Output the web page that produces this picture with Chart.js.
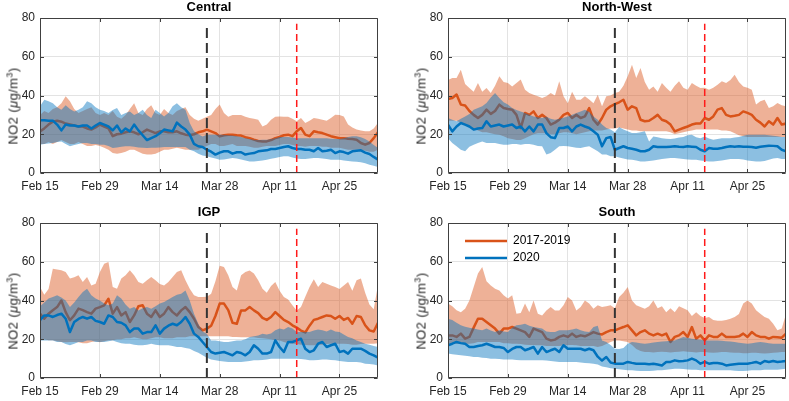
<!DOCTYPE html>
<html>
<head>
<meta charset="utf-8">
<script src="https://cdn.jsdelivr.net/npm/chart.js@4.4.1/dist/chart.umd.min.js"></script>
<style>
  html, body { margin: 0; padding: 0; background: #fff; overflow: hidden; }
  #page { position: relative; width: 789px; height: 401px; overflow: hidden; background: #fff; }
  .panel { position: absolute; }
  .ytitle {
    position: absolute;
    font: 13px "Liberation Sans", Arial, sans-serif;
    letter-spacing: 0.4px;
    color: #262626;
    white-space: nowrap;
    transform: translate(-50%, -50%) rotate(-90deg);
  }
  .ytitle sup { font-size: 9px; vertical-align: 5px; line-height: 0; }
</style>
</head>
<body>
<div id="page"></div>
<script>
// x axis = days since Feb 15 (2020)
const dayTicks = [0, 14, 28, 42, 56, 70];
const tickLabels = ["Feb 15", "Feb 29", "Mar 14", "Mar 28", "Apr 11", "Apr 25"];
const valueTicks = [0, 20, 40, 60, 80];
const lastDay = 79;
const lockdownDay = 39;   // Mar 25
const extensionDay = 60;  // Apr 15
const markerTop = 77;
const seriesLabels = ["2017-2019", "2020"];
const regions = ["Central", "North-West", "IGP", "South"];

// ---- Central
const centralMean1719 = [
  21.5, 23, 25, 26.5, 27, 26.5, 25.5, 25, 24.5, 24,
  24, 23, 22.4, 23.5, 25, 24, 23, 19, 20, 20.3,
  21, 21.5, 21, 20, 21, 22.4, 21.5, 20.6, 21.5, 21.5,
  21, 21, 21.5, 20.5, 19.8, 19.5, 20, 21, 21.5, 22.4,
  21.5, 20.6, 18.9, 19.5, 19.8, 19.8, 19.5, 19.3, 18.5, 18,
  17.2, 16.5, 16.3, 16.3, 17, 18, 18.6, 19.5, 19.8, 19,
  21.5, 23.2, 19.8, 19, 21.5, 21, 20.6, 19.8, 19, 18.5,
  18, 18, 17.7, 17.5, 17.2, 15.5, 14.6, 15.5, 18, 21
];
const centralLow1719 = [
  15, 15, 16, 15, 16, 17, 16, 15, 15, 16,
  15, 14, 14, 14.5, 14, 13, 12, 10.3, 10, 10.3,
  11, 12, 12, 11, 10, 9.5, 9.5, 10, 11, 12,
  12, 12.5, 13, 12.5, 12, 12, 12, 12, 13, 14,
  15, 15, 14, 14, 14.5, 15, 14, 14, 14, 13.5,
  13, 13, 13.5, 14, 14, 14, 14.5, 15, 15, 14.5,
  14, 14, 13.5, 14, 14, 14, 13.5, 13.5, 13, 13,
  13, 12.5, 12, 12, 12, 12, 11.5, 11, 11, 12
];
const centralHigh1719 = [
  30, 32, 31, 33, 34, 36, 39.6, 37, 33, 31,
  32, 33, 34, 31, 30, 31, 30, 32, 29, 28,
  30, 33, 36, 31, 30, 33, 35, 31, 30, 33,
  31, 30, 32, 33, 34, 30, 28, 27, 28, 29,
  30, 33, 35.3, 31, 29, 30, 30, 30, 29, 28.4,
  28, 27.5, 24, 25, 27.5, 29, 29.2, 29, 29, 28,
  26.7, 28.4, 25.8, 27, 28.4, 28, 27.5, 27, 28.4, 30.1,
  30, 29.2, 25, 23.5, 22.4, 22, 21.5, 21.5, 23, 26
];
const centralMean2020 = [
  27.2, 27.2, 27, 27, 25, 22, 25, 24.5, 24.5, 24,
  24.5, 24.5, 23, 24.5, 25.8, 25, 24, 22, 24.5, 21,
  23, 21.5, 25, 22, 19.5, 17, 18, 19, 20.5, 22.4,
  22, 21.5, 26, 24, 22.4, 19.8, 15, 13.8, 13.4, 12,
  11, 9.5, 10.5, 11.2, 11.2, 10, 10.7, 10.7, 9.5, 10,
  10.3, 11.2, 11.5, 11.7, 12.4, 12.4, 12.9, 13.4, 13.8, 12.9,
  12.4, 12.4, 12, 12, 11.2, 12.9, 11.2, 11.5, 12, 10.3,
  11.2, 10.8, 10, 11.2, 11.5, 11.7, 10.5, 9.8, 8.3, 6.9
];
const centralLow2020 = [
  14.6, 15, 15.2, 15.5, 16, 16.3, 15, 13.8, 14.5, 15,
  15.5, 15.5, 15, 15, 14.6, 14.6, 14, 12.9, 13.2, 13.5,
  13.8, 13.8, 13.5, 13.2, 13, 12.9, 13, 13, 13.2, 13.4,
  13.4, 13.4, 13.4, 13.4, 13.4, 12, 11.2, 10, 9, 8.6,
  8, 7.5, 6.9, 7, 7.3, 7.7, 7.5, 7, 6.5, 6,
  6, 6.2, 6.5, 6.9, 7.3, 7.8, 8.3, 8.6, 8.6, 8,
  7.5, 7.2, 7.2, 7.5, 7.7, 7.7, 7.5, 7.2, 6.9, 6.9,
  6.9, 6.5, 6.2, 6, 5.8, 5.5, 5, 4.3, 3.8, 3.1
];
const centralHigh2020 = [
  34.4, 37.8, 37, 36, 34, 32.7, 35, 33, 31.8, 32.7,
  34, 37, 36, 34, 32.7, 32, 31, 32.5, 33.5, 30,
  31, 31.8, 30, 31, 32.7, 30, 28.4, 32.7, 31, 29.2,
  31, 34.4, 36, 34, 32.7, 25.8, 21.5, 20, 18.9, 19.8,
  19.8, 19.8, 19.8, 19.8, 19.5, 19.3, 19, 18.6, 18, 17.5,
  17.2, 17, 17.2, 17.2, 17.5, 18, 18.6, 18.6, 18.6, 18.3,
  18, 18, 18, 18, 18, 18, 18, 18, 17.7, 17.5,
  17.5, 18, 18.6, 19, 19, 18.5, 17.5, 16.3, 14.5, 12.9
];

// ---- North-West
const northWestMean1719 = [
  38.2, 38.7, 40.5, 35.3, 34.8, 32, 30, 28.4, 30, 32.7,
  30.5, 32, 35.3, 33.5, 33, 32.7, 30, 23.2, 31, 30,
  31.8, 28.4, 30, 28.4, 25, 26, 27.5, 30, 31, 28.4,
  30, 28.4, 29.2, 33.5, 27.5, 25, 28.4, 32.7, 34.4, 35.5,
  36.5, 37.8, 32.7, 34.4, 33.5, 27.5, 26.7, 27, 28.4, 30,
  27.5, 26.7, 25, 21.5, 22.4, 23.2, 24, 25, 25.5, 25.5,
  28.4, 27.5, 29.2, 32.7, 33.5, 30, 29.2, 29.5, 30, 31.8,
  31, 30, 27.5, 26, 24, 26.7, 25, 28.4, 25, 25.5
];
const northWestLow1719 = [
  27, 27, 27, 26, 25, 24, 23, 22, 21, 21,
  20.5, 20, 19.8, 19, 18, 17.5, 17, 17, 18, 19,
  20, 20.5, 20.5, 20.5, 20, 20, 20.5, 21, 21, 20.5,
  20, 20.5, 21, 21.5, 22, 22, 22, 22.5, 23, 23,
  23.5, 23, 22.5, 22, 22, 21.5, 21.5, 21.5, 21.5, 21.5,
  21.5, 21.5, 21, 20, 20.5, 21, 21.5, 22, 22.4, 22.4,
  22.4, 22.4, 22.4, 22.4, 22, 22, 21.5, 20.5, 19.5, 19,
  18.6, 18.6, 18.6, 18.6, 18.6, 18.6, 18.6, 18.6, 18.6, 18.6
];
const northWestHigh1719 = [
  48, 49, 49, 53.3, 46, 43.9, 42, 46.5, 42, 43.9,
  41.3, 45, 50, 47, 46.5, 44.7, 46.5, 48.2, 43, 41.3,
  40.4, 39.6, 38.7, 39.6, 41.3, 40, 47.3, 39.6, 36, 42,
  37.8, 37.8, 39.6, 38, 36, 40.4, 34.4, 39.6, 40, 41.3,
  42, 45, 50, 55.9, 49, 54.2, 47, 43, 44.7, 42,
  46.5, 44, 42, 45, 47.3, 44, 43, 46.5, 45, 43.9,
  44, 43, 44, 45.5, 47.3, 46.5, 48, 50.7, 47, 44.7,
  44, 43, 35.3, 37, 37.8, 33.5, 34.5, 36.1, 35, 34.4
];
const northWestMean2020 = [
  25, 21.5, 24, 25.8, 25, 24, 22.4, 23, 23.2, 26.7,
  24, 24.5, 25, 24, 24.5, 25, 23.2, 24, 21.5, 24,
  21.5, 25, 25, 20.6, 18.5, 18, 23.2, 23.2, 24, 21.5,
  24, 25, 24, 23.2, 21.5, 19.8, 13.8, 18, 18.6, 12,
  12.9, 13.8, 12.9, 12.5, 12, 11.2, 11.2, 12, 13.8, 13.4,
  13.4, 13.4, 13.6, 13.8, 13.5, 13.4, 13.8, 13.6, 13.4, 12,
  11.2, 12.9, 12.5, 12.5, 12.9, 13.4, 13.8, 13.6, 13.8, 13.5,
  13.6, 13.4, 13, 13.5, 13.8, 14.1, 14, 13.8, 12, 11.2
];
const northWestLow2020 = [
  18, 15.5, 13.8, 12, 11.2, 13.5, 14.6, 15.5, 16.3, 15.5,
  15.5, 15.5, 15, 14.6, 14.6, 15, 15, 14.6, 15, 15,
  14.6, 14, 13.8, 9.5, 10.3, 12, 13.8, 14, 13.8, 13.4,
  13, 12.9, 13.4, 13.8, 12.5, 11.2, 9.5, 9.5, 8.6, 8.6,
  8, 7.5, 7, 6.9, 6.5, 6, 6, 6.2, 6.5, 6.9,
  7.2, 7.5, 7.7, 7.7, 7.5, 7.2, 7, 6.9, 6.8, 6.5,
  6.2, 6, 6, 6.2, 6.5, 6.9, 7.2, 7.2, 7.2, 7,
  6.5, 6.2, 6, 6, 6.2, 6.8, 7.5, 7.7, 7.2, 7.2
];
const northWestHigh2020 = [
  28.4, 27.5, 26.7, 28, 29.2, 30.5, 32.7, 33.5, 34.5, 36.1,
  39, 41.3, 38.7, 36.5, 35.3, 33.5, 32.5, 31.8, 31, 30.1,
  29.2, 28.8, 28.4, 29, 28, 27.5, 28, 28.5, 29.2, 30.1,
  31, 31.8, 32.7, 31.5, 29.2, 27.5, 25, 23.2, 22.4, 21,
  23.7, 22.4, 21.5, 20.6, 20.6, 21, 21.5, 16.3, 18.9, 18.5,
  18, 17.7, 17.5, 17.8, 18.3, 18.6, 19.5, 19.8, 18.5, 18,
  18.9, 17.8, 17.2, 17.5, 18, 18, 18, 18.3, 18.6, 19.2,
  19.8, 19.8, 19.8, 19.8, 19.8, 19.5, 19.2, 19, 18.6, 18.6
];

// ---- IGP
const igpMean1719 = [
  33.2, 30.6, 33.2, 35, 36.6, 40, 34, 29.8, 32.3, 35.8,
  35, 34, 33.2, 35.8, 36.6, 37.5, 40.9, 33.2, 36.6, 32.3,
  34, 28.9, 32.3, 37, 37.5, 33.2, 31.5, 34.9, 31.5, 33.2,
  36.6, 34, 32.3, 34.9, 36.6, 34, 30.6, 26.3, 24.6, 25.5,
  27, 32, 38.4, 38.4, 35, 28.5, 28, 34.9, 34.9, 36.6,
  34.9, 33.5, 31, 30, 31.5, 34, 32, 30, 28.9, 27.2,
  26, 24.5, 23.5, 27, 30, 30.6, 31.5, 32.3, 32, 30.6,
  32, 30, 31, 28, 32, 31.5, 27.2, 24.6, 24, 28.5
];
const igpLow1719 = [
  20, 20, 19.5, 19.5, 19, 18.6, 18.5, 18.6, 18.6, 18.5,
  18, 18, 18.6, 19, 18.5, 19, 19.5, 19.5, 20, 20,
  20.5, 20.5, 21, 20.5, 20, 20, 20.5, 21, 21, 20.5,
  20.5, 20.5, 21, 21, 21, 21.5, 21.5, 21.5, 21.5, 21.5,
  21.5, 21.5, 21.5, 21.5, 21.5, 21.2, 21.2, 21, 21, 21,
  21, 20.6, 20.5, 20.3, 20, 19.5, 19.4, 18.6, 18, 17.7,
  17.5, 17.2, 17, 16.9, 16.9, 17, 17.2, 17.5, 17.7, 17.7,
  17.7, 17.7, 17.5, 17.2, 17.2, 17.5, 17.7, 17.7, 17.7, 18
];
const igpHigh1719 = [
  47, 43, 46, 56.4, 56, 55.6, 54.7, 51.3, 52, 53,
  49.5, 52.1, 47.8, 48.7, 54.7, 59, 59.9, 47, 46.1, 51.3,
  53, 55.6, 53, 49.5, 48.7, 50.4, 52.1, 50.4, 48.5, 47.8,
  49.5, 52.1, 54.7, 55.6, 50.4, 46.1, 42.7, 41.8, 41.8, 42,
  43.5, 50, 58, 57.3, 53, 47, 45.2, 53, 54.7, 55.5,
  54, 50.4, 46.1, 44, 47.5, 49.5, 45, 41.8, 40.5, 37.5,
  34.9, 36.6, 42, 47, 51, 47, 49.5, 48.7, 47.8, 47,
  46, 47.8, 49.5, 45, 50.4, 51.3, 44, 38, 35.5, 48
];
const igpMean2020 = [
  29.8, 32.3, 32.3, 31.5, 32.5, 33.2, 30.6, 23.7, 28.9, 30.5,
  31.5, 30.6, 31.5, 29.5, 28.9, 28, 32.3, 31.5, 28.9, 28.5,
  27.2, 23.7, 25.5, 25.5, 22.9, 23.7, 23.7, 27.2, 22.9, 25.5,
  27, 28, 27.2, 28.9, 31.5, 28, 22.9, 21.2, 18.6, 16,
  13.4, 12.6, 13, 13.4, 12.6, 11.7, 13.4, 12.9, 11.7, 13.4,
  16.9, 15.1, 12.6, 12.6, 13.4, 19.4, 16, 13.4, 18.6, 18.6,
  19.4, 20.3, 15.1, 13.4, 14.3, 17.7, 18.6, 16, 16.9, 17.7,
  13.4, 14, 12.6, 15.1, 15.1, 15.1, 14, 12.6, 11.7, 10.5
];
const igpLow2020 = [
  19.4, 19.4, 19.4, 19.4, 18.6, 18.6, 17.5, 16.9, 17.7, 18.6,
  18.6, 19.4, 19.4, 18.6, 18.6, 18.6, 19, 19.4, 18.6, 18,
  17.7, 17.7, 17.2, 16.9, 16.9, 17.2, 17.7, 17.2, 16.9, 16.9,
  16.9, 16.5, 16, 16, 15.5, 15.1, 14, 13, 11.7, 10.5,
  9.5, 9.1, 8.8, 8.5, 8.3, 8.3, 8.3, 8.3, 8.5, 8.8,
  9.1, 9.1, 9.3, 9.6, 10, 10, 10, 10, 10, 10,
  10, 9.8, 9.5, 9.1, 9.1, 9.3, 9.5, 9.5, 9.3, 9.1,
  8.8, 8.5, 8.3, 8.3, 8.3, 8, 7.4, 7.2, 7, 6.5
];
const igpHigh2020 = [
  37, 39, 41, 41.8, 42.7, 41.5, 40, 36.6, 39, 41.8,
  44.4, 46.1, 42.7, 41, 40, 38.5, 37.5, 38.4, 42.7, 41,
  38, 35.8, 36.6, 34.9, 36, 36.6, 35.8, 37, 38.4, 39.2,
  40.5, 41.8, 43, 43.5, 45.2, 40, 33.2, 28, 24, 22.9,
  19.4, 19.4, 19, 18.6, 18.6, 19, 19.4, 19.4, 20, 21.2,
  21.5, 22, 22.9, 22.5, 23, 24.6, 25.5, 25, 26.3, 25.5,
  23.7, 23.7, 23.7, 23.7, 24.5, 25, 24.6, 24, 25, 24,
  23.7, 22.5, 21.2, 20.5, 19.4, 18.6, 17.7, 17.2, 16.5, 16
];

// ---- South
const southMean1719 = [
  22, 22, 21.2, 22.9, 20.3, 21.2, 26, 30.6, 30.6, 28.9,
  27.2, 25.5, 22.9, 25.5, 25.5, 26.3, 25.5, 24.6, 23.7, 21.2,
  25.5, 24.6, 23.7, 20.3, 19.4, 19.8, 21.2, 22, 21.2, 22.9,
  21.2, 22, 21.5, 22.5, 23.7, 22.9, 22.5, 23.7, 24.6, 24.6,
  25.5, 26.3, 27.2, 24.6, 22, 23.7, 24.6, 22.9, 22, 22.9,
  22, 22.9, 18.6, 21.2, 22, 23.7, 21.2, 26.3, 20.3, 22,
  19.4, 22, 21.2, 21.2, 22.9, 21.2, 21.2, 21.2, 21.5, 22.9,
  21.2, 23.7, 22, 21.2, 21.2, 20.3, 21.2, 21, 20.8, 22.9
];
const southLow1719 = [
  17.7, 17.7, 17.7, 17.5, 17.5, 17.7, 18, 18.6, 18.6, 18.6,
  18.6, 18.6, 18.6, 18, 18, 17.7, 17.7, 17.5, 17.2, 17,
  17, 16.9, 16.9, 16.5, 16.5, 16.5, 16.5, 16.9, 17, 17,
  16.9, 16.5, 16.5, 16.5, 16.5, 16, 16.5, 17.5, 18.6, 19.4,
  19.4, 19, 18.6, 17, 15, 14, 13.4, 13.4, 13.2, 13.4,
  13.6, 13.4, 13.2, 13.4, 13.6, 13.8, 13.6, 13.4, 13.2, 13.4,
  13.4, 13.2, 13, 13.2, 13.4, 13.4, 13.2, 13, 13, 12.8,
  12.8, 13, 13, 12.8, 12.6, 12.8, 13, 13.2, 13.4, 13.4
];
const southHigh1719 = [
  38.4, 37, 35, 34, 35.8, 40, 47, 54, 57.3, 50,
  47.8, 46.1, 45.2, 42.7, 41, 42.7, 33.2, 33.5, 38.4, 34,
  40, 33.2, 32.3, 34.9, 36.6, 34.9, 34.9, 37.5, 41.8, 40,
  34.9, 36.6, 40, 38.4, 35.8, 37.5, 36.6, 37, 37.5, 36,
  41.8, 44, 47, 40, 37.5, 36.6, 35.8, 37, 40, 36,
  37, 34, 36, 34, 37, 36, 35, 32, 34, 32,
  31, 31.5, 30, 29.5, 29.5, 30, 30.6, 31.5, 33, 38.4,
  40, 38.4, 35, 33.2, 31.5, 30.6, 28, 24.6, 25.5, 33
];
const southMean2020 = [
  16.9, 17.7, 18.6, 18, 17.7, 16, 16, 16.5, 16.9, 17.7,
  16.9, 16, 16, 15.5, 13.4, 15, 16, 16, 14.3, 15.1,
  16, 12.6, 16, 13.4, 14.3, 15.1, 13.4, 16.9, 15.1, 15.1,
  15.1, 15.1, 14.3, 15.1, 14.3, 11, 9, 10.8, 8, 7.4,
  7.4, 7.4, 8.3, 7.8, 7.4, 7.4, 7.4, 7.1, 7.4, 7,
  6.5, 8.3, 8.3, 9.1, 8.6, 8.8, 9.1, 10, 9.1, 7.4,
  8.3, 7.4, 7.7, 7.7, 7.4, 6.5, 6.8, 7.1, 7.4, 7.4,
  7.4, 7.8, 8.3, 7.4, 8.8, 8.3, 8.8, 8.3, 8.5, 8.8
];
const southLow2020 = [
  12.6, 12.3, 12, 11.7, 11.5, 11.2, 10.8, 10.8, 10.5, 10.3,
  10, 10, 9.8, 9.5, 9.5, 9.5, 9.3, 9.1, 9.1, 9.1,
  9.1, 9.1, 9.1, 9, 8.8, 8.5, 8.3, 8.3, 8.3, 8.3,
  8.3, 8, 7.8, 7.6, 7.4, 7, 6, 5.5, 5, 4.8,
  4.5, 4.2, 4, 4, 3.8, 3.6, 3.6, 3.6, 3.8, 4,
  4, 4.2, 4.5, 4.8, 4.8, 4.6, 4.4, 4.2, 4.2, 4,
  4, 4, 4, 4, 4, 4, 4, 3.8, 3.6, 3.6,
  3.8, 4, 4, 4, 4.2, 4.3, 4.3, 4.3, 4.5, 4.8
];
const southHigh2020 = [
  30.6, 30, 28.5, 27.2, 26.5, 26, 25.5, 25, 24.6, 25.5,
  24.5, 23.7, 24.6, 24, 23.7, 26, 27.2, 27.5, 28, 27,
  26.3, 26, 25.5, 24, 23.7, 23.7, 24.6, 24.6, 24.6, 25,
  25.5, 24.6, 24, 23.7, 26.3, 27, 19.4, 18.6, 17, 15.1,
  15, 15.5, 17.7, 18.6, 18.3, 18, 17.7, 18, 18.3, 18.6,
  18.8, 19, 19.2, 19.4, 20.3, 21.2, 20.8, 20.3, 20, 19.7,
  19.4, 19.4, 19.4, 19.4, 19.2, 19, 18.8, 18.6, 18.2, 18,
  17.7, 18, 18.3, 18.6, 18.3, 18, 17.7, 17.7, 17.7, 17.7
];

const regionSeries = [
  [centralMean1719, centralLow1719, centralHigh1719, centralMean2020, centralLow2020, centralHigh2020],
  [northWestMean1719, northWestLow1719, northWestHigh1719, northWestMean2020, northWestLow2020, northWestHigh2020],
  [igpMean1719, igpLow1719, igpHigh1719, igpMean2020, igpLow2020, igpHigh2020],
  [southMean1719, southLow1719, southHigh1719, southMean2020, southLow2020, southHigh2020]
];

// layout of the four panels on the page
const panelBoxes = [
  { left: 0, top: 0, width: 394, height: 200, padRight: 16 },
  { left: 408, top: 0, width: 381, height: 200, padRight: 3 },
  { left: 0, top: 205, width: 394, height: 200, padRight: 16 },
  { left: 408, top: 205, width: 381, height: 200, padRight: 3 }
];
const legendPanel = 3;

const orange = "rgb(217,83,25)";
const blue = "rgb(0,114,189)";
const orangeFill = "rgba(217,83,25,0.45)";
const blueFill = "rgba(0,114,189,0.45)";
const axisColor = "#404040";

Chart.defaults.font.family = '"Liberation Sans", Arial, Helvetica, sans-serif';
Chart.defaults.font.size = 12;
Chart.defaults.color = "#262626";

const toPoints = values => values.map((v, i) => ({ x: i, y: v }));

// box round the plot and inward tick marks, like matlab "box on"
const axesBox = {
  id: "axesBox",
  afterDatasetsDraw(chart) {
    const { ctx, chartArea: a, scales } = chart;
    const l = Math.round(a.left) + 0.5, r = Math.round(a.right) - 0.5;
    const t = Math.round(a.top) + 0.5, b = Math.round(a.bottom) - 0.5;
    const len = 3.5;
    ctx.save();
    ctx.strokeStyle = axisColor;
    ctx.lineWidth = 1;
    ctx.setLineDash([]);
    ctx.beginPath();
    ctx.rect(l, t, r - l, b - t);
    dayTicks.forEach(v => {
      const px = Math.round(scales.x.getPixelForValue(v)) + 0.5;
      ctx.moveTo(px, b); ctx.lineTo(px, b - len);
      ctx.moveTo(px, t); ctx.lineTo(px, t + len);
    });
    valueTicks.forEach(v => {
      const py = Math.round(scales.y.getPixelForValue(v)) + 0.5;
      ctx.moveTo(l, py); ctx.lineTo(l + len, py);
      ctx.moveTo(r, py); ctx.lineTo(r - len, py);
    });
    ctx.stroke();
    ctx.restore();
  }
};

// push the in-plot legend a little away from the corner
const legendNudge = {
  id: "legendNudge",
  afterLayout(chart, args, opts) {
    if (!chart.legend || !opts.dx) return;
    chart.legend.left += opts.dx;
    chart.legend.right += opts.dx;
    chart.legend.top += opts.dy;
    chart.legend.bottom += opts.dy;
  }
};

const page = document.getElementById("page");

regions.forEach((name, p) => {
  const box = panelBoxes[p];
  const [mean1719, low1719, high1719, mean2020, low2020, high2020] = regionSeries[p];

  const wrap = document.createElement("div");
  wrap.className = "panel";
  wrap.style.left = box.left + "px";
  wrap.style.top = box.top + "px";
  const canvas = document.createElement("canvas");
  canvas.width = box.width;
  canvas.height = box.height;
  canvas.style.width = box.width + "px";
  canvas.style.height = box.height + "px";
  wrap.appendChild(canvas);
  page.appendChild(wrap);

  const yTitle = document.createElement("div");
  yTitle.className = "ytitle";
  yTitle.innerHTML = 'NO2 (<i>\u03bc</i>g/m<sup>3</sup>)';
  yTitle.style.left = (box.left + 12.5) + "px";
  yTitle.style.top = (box.top + 106) + "px";
  page.appendChild(yTitle);

  const band = (values, color, order, fill) => ({
    label: "",
    data: toPoints(values),
    fill: fill,
    backgroundColor: color,
    borderColor: "rgba(0,0,0,0)",
    borderWidth: 0,
    pointRadius: 0,
    order: order
  });
  const meanLine = (label, values, color, order) => ({
    label: label,
    data: toPoints(values),
    fill: false,
    borderColor: color,
    backgroundColor: color,
    borderWidth: 2.5,
    pointBorderWidth: 2.5,
    borderJoinStyle: "round",
    pointRadius: 0,
    order: order
  });
  const marker = (day, color, width, dash, order) => ({
    label: "",
    data: [{ x: day, y: 0 }, { x: day, y: markerTop }],
    fill: false,
    borderColor: color,
    borderWidth: width,
    borderDash: dash,
    pointRadius: 0,
    order: order
  });

  new Chart(canvas, {
    type: "line",
    data: {
      datasets: [
        band(high1719, orangeFill, 6, "+1"),
        band(low1719, "rgba(0,0,0,0)", 6, false),
        meanLine(seriesLabels[0], mean1719, orange, 5),
        band(high2020, blueFill, 4, "+1"),
        band(low2020, "rgba(0,0,0,0)", 4, false),
        meanLine(seriesLabels[1], mean2020, blue, 3),
        marker(lockdownDay, "#333333", 2, [10, 5], 2),
        marker(extensionDay, "#ff1a1a", 1.5, [7, 4], 1)
      ]
    },
    options: {
      responsive: false,
      devicePixelRatio: 1,
      animation: false,
      events: [],
      layout: { padding: { left: 0, right: box.padRight, top: 0, bottom: 0 } },
      scales: {
        x: {
          type: "linear",
          min: 0,
          max: lastDay,
          afterBuildTicks: s => { s.ticks = dayTicks.map(v => ({ value: v })); },
          afterFit: s => { s.height = 27; },
          ticks: {
            autoSkip: false,
            maxRotation: 0,
            padding: 6,
            callback: v => tickLabels[dayTicks.indexOf(v)]
          },
          grid: { color: "#e3e3e3", drawTicks: false },
          border: { display: false }
        },
        y: {
          min: 0,
          max: 80,
          afterBuildTicks: s => { s.ticks = valueTicks.map(v => ({ value: v })); },
          afterFit: s => { s.width = 40; },
          ticks: { padding: 5 },
          grid: { color: "#e3e3e3", drawTicks: false },
          border: { display: false }
        }
      },
      plugins: {
        title: {
          display: true,
          text: name,
          fullSize: false,
          color: "#000",
          font: { size: 13, weight: "bold", lineHeight: 1 },
          padding: { top: 1, bottom: 4 }
        },
        legend: {
          display: p === legendPanel,
          position: "chartArea",
          align: "start",
          labels: {
            usePointStyle: true,
            pointStyle: "line",
            pointStyleWidth: 42,
            padding: 5,
            color: "#000",
            font: { size: 12 },
            filter: item => item.text !== "",
            sort: (a, b) => a.datasetIndex - b.datasetIndex
          }
        },
        legendNudge: { dx: 12, dy: 25 },
        tooltip: { enabled: false }
      }
    },
    plugins: [axesBox, legendNudge]
  });
});
</script>
</body>
</html>
